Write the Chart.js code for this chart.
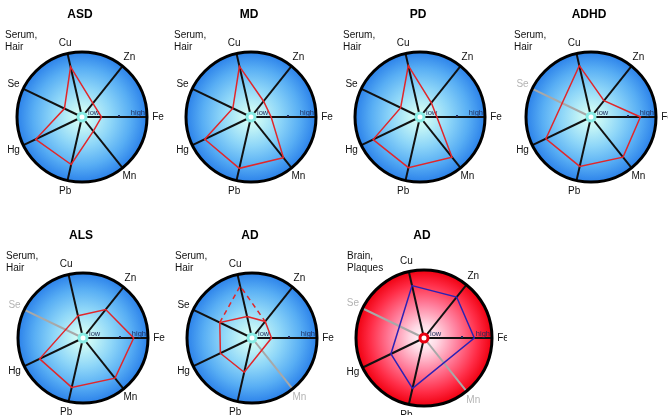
<!DOCTYPE html>
<html>
<head>
<meta charset="utf-8">
<script src="https://cdn.jsdelivr.net/npm/chart.js@4.4.1/dist/chart.umd.min.js"></script>
<style>
  html, body { margin: 0; padding: 0; background: #fff; width: 668px; height: 415px; overflow: hidden; position: relative; }
  canvas { position: absolute; }
</style>
</head>
<body>
<script>
// Trace elements on each radar axis (clockwise from the top)
const elements = ['Cu', 'Zn', 'Fe', 'Mn', 'Pb', 'Hg', 'Se'];

// Relative levels, 0 = low (centre) … 10 = high (rim); null = not measured
const asd      = [7.9, 2.7, 3.0, 2.8, 7.5, 7.9, 3.0];
const md       = [8.0, 3.1, 3.1, 8.0, 8.1, 7.9, 3.1];
const pd       = [8.1, 2.8, 2.6, 7.9, 8.0, 8.0, 3.3];
const adhd     = [8.1, 3.2, 7.6, 7.9, 7.8, 7.7, null];
const als      = [3.5, 5.6, 7.8, 7.9, 7.8, 7.4, null];
const adSerum  = [3.4, 3.25, 3.0, null, 5.4, 5.4, 5.5];
const adSerumCuAlt = [8.2, 3.25, null, null, null, null, 5.5];
const adBrain  = [7.9, 7.7, 7.4, null, 7.6, 5.4, null];

// Panel titles and sample types
const titles = ['ASD', 'MD', 'PD', 'ADHD', 'ALS', 'AD', 'AD'];
const serumHair = ['Serum,', 'Hair'];
const brainPlaques = ['Brain,', 'Plaques'];
const axisEnds = ['low', 'high'];

const SCALE_MAX = 10;
const CANVAS_W = 166, CANVAS_H = 207, OX = 83, OY = 117;
const FONT = '"Liberation Sans", Arial, Helvetica, sans-serif';

const panels = [
  { title: titles[0], sample: serumHair, series: [{ data: asd }], cx: 82, cy: 117, r: 65 },
  { title: titles[1], sample: serumHair, series: [{ data: md }], cx: 251, cy: 117, r: 65 },
  { title: titles[2], sample: serumHair, series: [{ data: pd }], cx: 420, cy: 117, r: 65 },
  { title: titles[3], sample: serumHair, series: [{ data: adhd }], cx: 591, cy: 117, r: 65 },
  { title: titles[4], sample: serumHair, series: [{ data: als }], cx: 83, cy: 338, r: 65 },
  { title: titles[5], sample: serumHair, series: [{ data: adSerum }, { data: adSerumCuAlt, dashed: true }], cx: 252, cy: 338, r: 65 },
  { title: titles[6], sample: brainPlaques, series: [{ data: adBrain }], cx: 424, cy: 338, r: 68, brain: true }
];

function fillStops(g, stops) { stops.forEach(s => g.addColorStop(s[0], s[1])); }

const blueStops = [[0, '#e6fff7'], [0.15, '#c6f6f6'], [0.45, '#8ed6f8'], [0.75, '#58aef4'], [1, '#2c82ea']];
const redStops  = [[0, '#ffffff'], [0.2, '#ffd8e4'], [0.5, '#ff7e9c'], [0.8, '#ff2c46'], [1, '#f00010']];

function makeDecor(panel) {
  const muted = i => panel.series[0].data[i] === null;
  return {
    id: 'panelDecor',
    beforeDraw(chart) {
      const s = chart.scales.r, ctx = chart.ctx;
      const g = ctx.createRadialGradient(s.xCenter, s.yCenter, 0, s.xCenter, s.yCenter, s.drawingArea);
      fillStops(g, panel.brain ? redStops : blueStops);
      ctx.save();
      ctx.beginPath();
      ctx.arc(s.xCenter, s.yCenter, s.drawingArea, 0, Math.PI * 2);
      ctx.fillStyle = g;
      ctx.fill();
      ctx.restore();
    },
    beforeDatasetsDraw(chart) {
      const s = chart.scales.r, ctx = chart.ctx;
      const cx = s.xCenter, cy = s.yCenter, r = s.drawingArea;
      ctx.save();
      // low / high markers along the Fe axis
      ctx.font = '7.5px ' + FONT;
      ctx.fillStyle = '#1c2a5a';
      ctx.textBaseline = 'alphabetic';
      ctx.textAlign = 'left';
      ctx.fillText(axisEnds[0], cx + 6, cy - 2);
      ctx.textAlign = 'right';
      ctx.fillText(axisEnds[1], cx + r - 2, cy - 2);
      ctx.fillRect(cx + Math.round(r * 0.55), cy - 2, 2, 2);
      ctx.restore();
    },
    afterDraw(chart) {
      const s = chart.scales.r, ctx = chart.ctx;
      const cx = s.xCenter, cy = s.yCenter, r = s.drawingArea;
      ctx.save();
      // rim
      ctx.beginPath();
      ctx.arc(cx, cy, r, 0, Math.PI * 2);
      ctx.lineWidth = 3;
      ctx.strokeStyle = '#000';
      ctx.stroke();
      // centre ring
      ctx.beginPath();
      ctx.arc(cx, cy, 4, 0, Math.PI * 2);
      ctx.fillStyle = '#fff';
      ctx.fill();
      ctx.lineWidth = 3;
      ctx.strokeStyle = panel.brain ? '#e80010' : '#86ece4';
      ctx.stroke();
      // element labels
      ctx.font = '10px ' + FONT;
      ctx.textAlign = 'center';
      ctx.textBaseline = 'middle';
      chart.data.labels.forEach((lab, i) => {
        const p = s.getPointPosition(i, r + 11);
        ctx.fillStyle = muted(i) ? '#b4b4b4' : '#111';
        ctx.fillText(lab, p.x, p.y);
      });
      // title
      ctx.font = 'bold 12px ' + FONT;
      ctx.fillStyle = '#000';
      ctx.fillText(panel.title, cx - 2, cy - 102);
      // sample type
      ctx.font = '10px ' + FONT;
      ctx.textAlign = 'left';
      ctx.fillStyle = '#111';
      ctx.fillText(panel.sample[0], cx - 77, cy - 82);
      ctx.fillText(panel.sample[1], cx - 77, cy - 70);
      ctx.restore();
    }
  };
}

panels.forEach(panel => {
  const cv = document.createElement('canvas');
  cv.width = CANVAS_W;
  cv.height = CANVAS_H;
  cv.style.left = (panel.cx - OX) + 'px';
  cv.style.top = (panel.cy - OY) + 'px';
  document.body.appendChild(cv);
  const r = panel.r;
  const lineColor = panel.brain ? '#2c22b4' : '#e2262a';
  new Chart(cv, {
    type: 'radar',
    data: {
      labels: elements,
      datasets: panel.series.map(sr => ({
        data: sr.data,
        borderColor: lineColor,
        borderWidth: 1.5,
        borderDash: sr.dashed ? [5, 4] : [],
        fill: false,
        spanGaps: !sr.dashed,
        pointRadius: 0,
        tension: 0
      }))
    },
    options: {
      responsive: false,
      animation: false,
      devicePixelRatio: 1,
      events: [],
      layout: { padding: { left: OX - r, right: CANVAS_W - OX - r, top: OY - r, bottom: CANVAS_H - OY - r } },
      plugins: { legend: { display: false }, tooltip: { enabled: false }, title: { display: false } },
      scales: {
        r: {
          min: 0,
          max: SCALE_MAX,
          startAngle: -360 / 7 / 4,
          ticks: { display: false },
          grid: { display: false },
          pointLabels: { display: false },
          angleLines: {
            display: true,
            lineWidth: 2,
            color: ctx => panel.series[0].data[ctx.index] === null ? '#a8a8a8' : '#111'
          }
        }
      }
    },
    plugins: [makeDecor(panel)]
  });
});
</script>
</body>
</html>
